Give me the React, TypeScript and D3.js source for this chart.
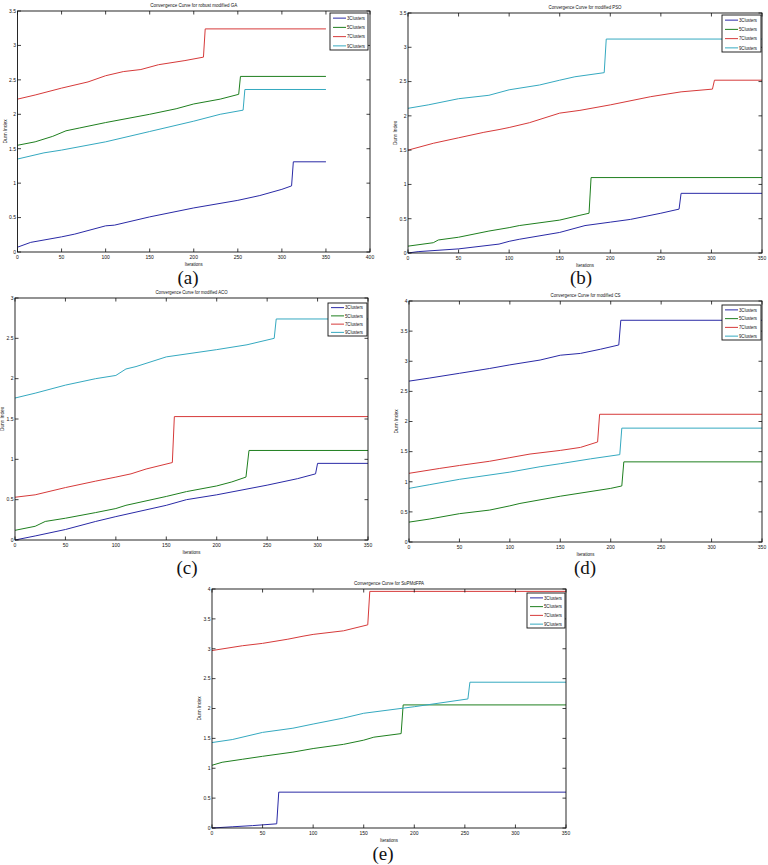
import React from "react";
import * as d3 from "d3";

type Pt = [number, number];

// ---- Data (iteration, index value) ----
const ga3: Pt[] = [[0,0.07],[15,0.14],[50,0.22],[65,0.26],[100,0.38],[110,0.39],[150,0.51],[200,0.64],[250,0.75],[275,0.82],[300,0.91],[311,0.96],[313,1.31],[350,1.31]];
const ga5: Pt[] = [[0,1.55],[20,1.6],[40,1.68],[55,1.76],[70,1.8],[100,1.88],[150,2.0],[180,2.08],[200,2.15],[230,2.22],[251,2.29],[253,2.55],[350,2.55]];
const ga7: Pt[] = [[0,2.22],[20,2.28],[50,2.38],[80,2.47],[100,2.56],[120,2.62],[140,2.65],[160,2.72],[190,2.78],[211,2.83],[213,3.24],[350,3.24]];
const ga9: Pt[] = [[0,1.35],[30,1.44],[50,1.48],[100,1.6],[150,1.75],[200,1.9],[230,2.0],[256,2.06],[258,2.36],[350,2.36]];

const pso3: Pt[] = [[0,0],[10,0.02],[50,0.06],[90,0.13],[100,0.17],[110,0.2],[150,0.3],[175,0.4],[200,0.45],[220,0.49],[250,0.58],[268,0.64],[270,0.87],[350,0.87]];
const pso5: Pt[] = [[0,0.1],[25,0.15],[30,0.19],[50,0.23],[80,0.32],[100,0.37],[110,0.4],[150,0.48],[170,0.55],[179,0.58],[181,1.1],[350,1.1]];
const pso7: Pt[] = [[0,1.5],[25,1.6],[50,1.68],[75,1.76],[90,1.8],[100,1.83],[120,1.9],[150,2.04],[170,2.08],[200,2.16],[240,2.28],[270,2.35],[301,2.39],[303,2.52],[350,2.52]];
const pso9: Pt[] = [[0,2.11],[20,2.16],[50,2.25],[80,2.3],[100,2.38],[130,2.45],[150,2.52],[165,2.57],[194,2.63],[196,3.12],[350,3.12]];

const aco3: Pt[] = [[0,0],[20,0.05],[50,0.13],[80,0.23],[100,0.29],[150,0.43],[170,0.5],[200,0.56],[250,0.68],[280,0.76],[298,0.82],[300,0.95],[350,0.95]];
const aco5: Pt[] = [[0,0.12],[20,0.17],[30,0.23],[50,0.27],[80,0.34],[100,0.39],[110,0.43],[150,0.54],[170,0.6],[200,0.67],[215,0.72],[229,0.78],[232,1.11],[350,1.11]];
const aco7: Pt[] = [[0,0.53],[20,0.56],[50,0.65],[80,0.73],[100,0.78],[115,0.82],[130,0.88],[156,0.96],[158,1.53],[350,1.53]];
const aco9: Pt[] = [[0,1.76],[20,1.82],[50,1.92],[80,2.0],[100,2.04],[110,2.12],[120,2.15],[150,2.27],[200,2.36],[230,2.42],[257,2.5],[259,2.74],[350,2.74]];

const cs3: Pt[] = [[0,2.67],[20,2.72],[50,2.8],[80,2.88],[100,2.94],[130,3.02],[150,3.1],[170,3.13],[190,3.2],[208,3.27],[210,3.68],[350,3.68]];
const cs5: Pt[] = [[0,0.33],[20,0.38],[50,0.47],[80,0.53],[100,0.6],[110,0.64],[150,0.76],[200,0.89],[211,0.93],[213,1.33],[350,1.33]];
const cs7: Pt[] = [[0,1.14],[30,1.22],[50,1.27],[80,1.34],[100,1.4],[120,1.46],[150,1.52],[170,1.57],[187,1.66],[189,2.12],[350,2.12]];
const cs9: Pt[] = [[0,0.89],[20,0.95],[50,1.04],[100,1.16],[130,1.25],[150,1.3],[180,1.38],[209,1.45],[211,1.89],[350,1.89]];

const fpa3: Pt[] = [[0,0],[20,0.02],[40,0.04],[64,0.07],[66,0.6],[350,0.6]];
const fpa5: Pt[] = [[0,1.05],[10,1.1],[30,1.15],[50,1.2],[80,1.27],[100,1.33],[130,1.4],[150,1.47],[160,1.52],[187,1.58],[189,2.06],[350,2.06]];
const fpa7: Pt[] = [[0,2.97],[30,3.05],[50,3.09],[75,3.16],[90,3.21],[100,3.24],[130,3.3],[154,3.4],[156,3.96],[350,3.96]];
const fpa9: Pt[] = [[0,1.43],[20,1.48],[50,1.6],[80,1.67],[100,1.74],[130,1.84],[150,1.92],[200,2.03],[253,2.16],[255,2.44],[350,2.44]];

const seriesNames = ["3Clusters", "5Clusters", "7Clusters", "9Clusters"];
const seriesColors = ["#2a2aa6", "#1f7f1f", "#d63a3a", "#35a9c0"];

const titles = [
  "Convergence Curve for robust modified GA",
  "Convergence Curve for modified PSO",
  "Convergence Curve for modified ACO",
  "Convergence Curve for modified CS",
  "Convergence Curve for SuPMdFPA",
];
const panelLabels = ["(a)", "(b)", "(c)", "(d)", "(e)"];
const xMaxes = [400, 350, 350, 350, 350];
const yMaxes = [3.5, 3.5, 3, 4, 4];
const panelData: Pt[][][] = [
  [ga3, ga5, ga7, ga9],
  [pso3, pso5, pso7, pso9],
  [aco3, aco5, aco7, aco9],
  [cs3, cs5, cs7, cs9],
  [fpa3, fpa5, fpa7, fpa9],
];

// ---- Layout (pixels) ----
const layouts = [
  { l: 17.5, t: 11, r: 370, b: 252, titleW: 87, leg: [330, 13, 38, 37], lx: 188, ly: 284 },
  { l: 408, t: 13, r: 762, b: 253, titleW: 73, leg: [722, 15, 39, 37], lx: 581, ly: 284 },
  { l: 15, t: 298, r: 368, b: 540, titleW: 72, leg: [328, 303, 39, 33], lx: 187, ly: 574 },
  { l: 409, t: 301, r: 762, b: 542, titleW: 70, leg: [722, 305, 39, 35], lx: 585, ly: 574 },
  { l: 212, t: 589, r: 566, b: 828, titleW: 70, leg: [527, 593, 38, 35], lx: 383, ly: 860 },
];

const FONT = "'Liberation Sans', Arial, sans-serif";

function Panel({ i }: { i: number }) {
  const L = layouts[i];
  const x = d3.scaleLinear().domain([0, xMaxes[i]]).range([L.l, L.r]);
  const y = d3.scaleLinear().domain([0, yMaxes[i]]).range([L.b, L.t]);
  const line = d3.line<Pt>().x((d) => x(d[0])).y((d) => y(d[1]));
  const xt = d3.range(0, xMaxes[i] + 1, 50);
  const yt = d3.range(0, yMaxes[i] + 0.001, 0.5);
  const tl = 3.5;
  const [gx, gy, gw, gh] = L.leg;
  const step = gh / 4;
  return (
    <g>
      <text x={(L.l + L.r) / 2} y={L.t - 4.5} fontSize={5.5} fontFamily={FONT} textAnchor="middle"
        textLength={L.titleW} lengthAdjust="spacingAndGlyphs" fill="#111">{titles[i]}</text>
      {panelData[i].map((s, k) => (
        <path key={k} d={line(s) || ""} fill="none" stroke={seriesColors[k]} strokeWidth={1} />
      ))}
      <rect x={L.l} y={L.t} width={L.r - L.l} height={L.b - L.t} fill="none" stroke="#111" strokeWidth={0.9} />
      {xt.map((v) => (
        <g key={"x" + v}>
          <line x1={x(v)} x2={x(v)} y1={L.b} y2={L.b - tl} stroke="#111" strokeWidth={0.8} />
          <line x1={x(v)} x2={x(v)} y1={L.t} y2={L.t + tl} stroke="#111" strokeWidth={0.8} />
          <text x={x(v)} y={L.b + 6.5} fontSize={5} fontFamily={FONT} textAnchor="middle" fill="#111">{v}</text>
        </g>
      ))}
      {yt.map((v) => (
        <g key={"y" + v}>
          <line x1={L.l} x2={L.l + tl} y1={y(v)} y2={y(v)} stroke="#111" strokeWidth={0.8} />
          <line x1={L.r} x2={L.r - tl} y1={y(v)} y2={y(v)} stroke="#111" strokeWidth={0.8} />
          <text x={L.l - 1.5} y={y(v) + 1.8} fontSize={5} fontFamily={FONT} textAnchor="end" fill="#111">{String(v)}</text>
        </g>
      ))}
      <text x={(L.l + L.r) / 2} y={L.b + 14} fontSize={5} fontFamily={FONT} textAnchor="middle"
        textLength={18} lengthAdjust="spacingAndGlyphs" fill="#111">Iterations</text>
      <text transform={`translate(${L.l - 11},${(L.t + L.b) / 2}) rotate(-90)`} fontSize={5} fontFamily={FONT}
        textAnchor="middle" textLength={24} lengthAdjust="spacingAndGlyphs" fill="#111">Dunn Index</text>
      <rect x={gx} y={gy} width={gw} height={gh} fill="#fff" stroke="#111" strokeWidth={0.9} />
      {seriesNames.map((n, k) => {
        const cy = gy + step * (k + 0.5) + 0.5;
        return (
          <g key={n}>
            <line x1={gx + 3} x2={gx + 16} y1={cy} y2={cy} stroke={seriesColors[k]} strokeWidth={1} />
            <text x={gx + 17} y={cy + 1.8} fontSize={5} fontFamily={FONT} textLength={18}
              lengthAdjust="spacingAndGlyphs" fill="#111">{n}</text>
          </g>
        );
      })}
      <text x={L.lx} y={L.ly} fontSize={19} fontFamily="'Liberation Serif', 'Times New Roman', serif"
        textAnchor="middle" fill="#111">{panelLabels[i]}</text>
    </g>
  );
}

export default function App() {
  return (
    <svg width={768} height={865} style={{ position: "absolute", left: 0, top: 0, background: "#fff" }}>
      <rect width={768} height={865} fill="#fff" />
      {[0, 1, 2, 3, 4].map((i) => (
        <Panel key={i} i={i} />
      ))}
    </svg>
  );
}
